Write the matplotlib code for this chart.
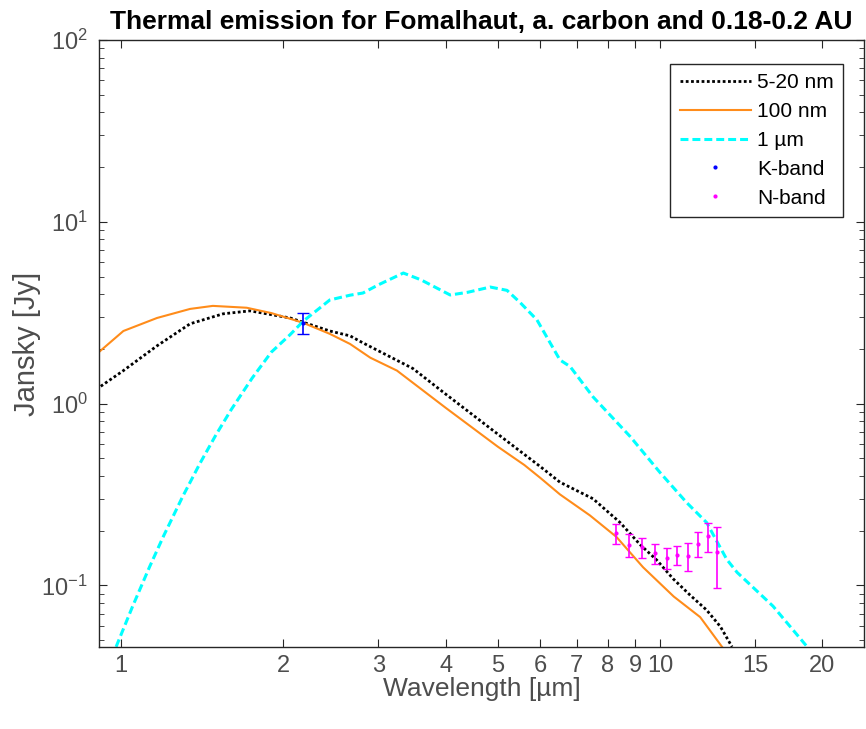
import numpy as np
import matplotlib
matplotlib.use("Agg")
import matplotlib.pyplot as plt
from matplotlib.ticker import LogLocator, NullLocator, FixedLocator, FixedFormatter

plt.rcParams['font.family'] = ['Liberation Sans', 'DejaVu Sans']
plt.rcParams['mathtext.fontset'] = 'custom'
plt.rcParams['mathtext.rm'] = 'Liberation Sans'

# model spectra (wavelength in um, flux in Jy)
wl_small = [0.90, 1.01, 1.166, 1.343, 1.546, 1.735, 2.06, 2.44, 2.66, 2.81, 3.48,
            4.0, 5.0, 6.0, 6.52, 7.51, 8.43, 9.18, 9.86, 10.57, 11.37, 12.2, 12.94, 13.6]
flux_small = [1.20, 1.52, 2.08, 2.75, 3.12, 3.24, 2.96, 2.51, 2.36, 2.16, 1.56,
              1.13, 0.68, 0.45, 0.37, 0.30, 0.222, 0.168, 0.138, 0.109, 0.0885, 0.0733, 0.0594, 0.046]

wl_100 = [0.90, 1.01, 1.166, 1.343, 1.48, 1.71, 1.9, 2.06, 2.18, 2.44, 2.66, 2.90, 3.25,
          4.0, 5.0, 5.6, 6.0, 6.52, 7.41, 8.3, 9.3, 10.6, 11.87, 12.2, 13.03]
flux_100 = [1.87, 2.51, 2.96, 3.32, 3.45, 3.37, 3.15, 2.93, 2.78, 2.42, 2.13, 1.79, 1.52,
            0.95, 0.58, 0.46, 0.39, 0.317, 0.243, 0.185, 0.126, 0.087, 0.067, 0.060, 0.046]

wl_1um = [0.979, 1.05, 1.13, 1.2, 1.3, 1.4, 1.5, 1.6, 1.75, 1.9, 2.06, 2.18, 2.44, 2.66,
          2.81, 3.0, 3.34, 3.6, 4.08, 4.4, 4.84, 5.2, 5.5, 5.91, 6.52, 6.81, 7.51, 8.8,
          10.0, 11.2, 12.2, 12.8, 13.3, 13.9, 16.2, 18.75]
flux_1um = [0.046, 0.0765, 0.127, 0.188, 0.307, 0.468, 0.674, 0.925, 1.38, 1.92, 2.40, 2.85,
            3.72, 3.95, 4.06, 4.5, 5.23, 4.8, 3.96, 4.1, 4.38, 4.2, 3.6, 2.89, 1.74, 1.60, 1.09,
            0.66, 0.418, 0.286, 0.222, 0.171, 0.139, 0.118, 0.077, 0.046]

# photometry
k_wl = [2.18]
k_flux = [2.78]
k_err = [0.37]

n_wl = [8.29, 8.77, 9.25, 9.79, 10.29, 10.77, 11.26, 11.78, 12.26, 12.76]
n_flux = [0.194, 0.167, 0.162, 0.150, 0.142, 0.147, 0.146, 0.170, 0.187, 0.153]
n_err = [0.025, 0.024, 0.020, 0.019, 0.019, 0.017, 0.026, 0.026, 0.035, 0.056]

xticks = [1, 2, 3, 4, 5, 6, 7, 8, 9, 10, 15, 20]

fig = plt.figure(figsize=(8.66, 7.29), dpi=100)
ax = fig.add_axes([0.1143, 0.1125, 0.8834, 0.8326])

ax.plot(wl_small, flux_small, color='black', lw=2.0, dashes=(1, 0.9), label='5-20 nm')
ax.plot(wl_100, flux_100, color='#FF8C1A', lw=1.5, label='100 nm')
ax.plot(wl_1um, flux_1um, color='cyan', lw=2.2, dashes=(2.6, 1.3), label='1 µm')

ax.errorbar(k_wl, k_flux, yerr=k_err, fmt='none', ecolor='blue', elinewidth=1.2, capsize=4)
ax.plot(k_wl, k_flux, '.', color='blue', ms=4, label='K-band')
ax.errorbar(n_wl, n_flux, yerr=n_err, fmt='none', ecolor='magenta', elinewidth=1.2, capsize=3)
ax.plot(n_wl, n_flux, '.', color='magenta', ms=4, label='N-band')

ax.set_xscale('log')
ax.set_yscale('log')
ax.set_xlim(0.91, 23.9)
ax.set_ylim(0.0459, 100)

ax.xaxis.set_major_locator(FixedLocator(xticks))
ax.xaxis.set_major_formatter(FixedFormatter([str(t) for t in xticks]))
ax.xaxis.set_minor_locator(NullLocator())
ax.yaxis.set_major_locator(LogLocator(base=10))
ax.yaxis.set_minor_locator(LogLocator(base=10, subs=np.arange(2, 10)))

for s in ax.spines.values():
    s.set_color('#262626')
    s.set_linewidth(1.0)
ax.tick_params(which='both', direction='in', top=True, right=True, color='#262626',
               labelcolor='#4d4d4d', labelsize=17)
ax.tick_params(which='major', length=6, pad=8)
ax.tick_params(axis='x', which='major', pad=6)
ax.tick_params(which='minor', length=3.5)

ax.set_xlabel('Wavelength [µm]', fontsize=19, color='#4d4d4d', labelpad=0)
ax.set_ylabel('Jansky [Jy]', fontsize=21, color='#4d4d4d', labelpad=0)
ax.set_title('Thermal emission for Fomalhaut, a. carbon and 0.18-0.2 AU',
             fontsize=19, fontweight='bold', pad=8)

leg = ax.legend(loc='upper right', bbox_to_anchor=(843 / 866, 1 - 64 / 729),
                bbox_transform=fig.transFigure, borderaxespad=0, fontsize=15,
                fancybox=False, framealpha=1, edgecolor='#262626', borderpad=0.45,
                handlelength=3.4, handletextpad=0.3, labelspacing=0.47)
leg.get_frame().set_linewidth(1.0)

fig.savefig('out.png', dpi=100, facecolor='white')
